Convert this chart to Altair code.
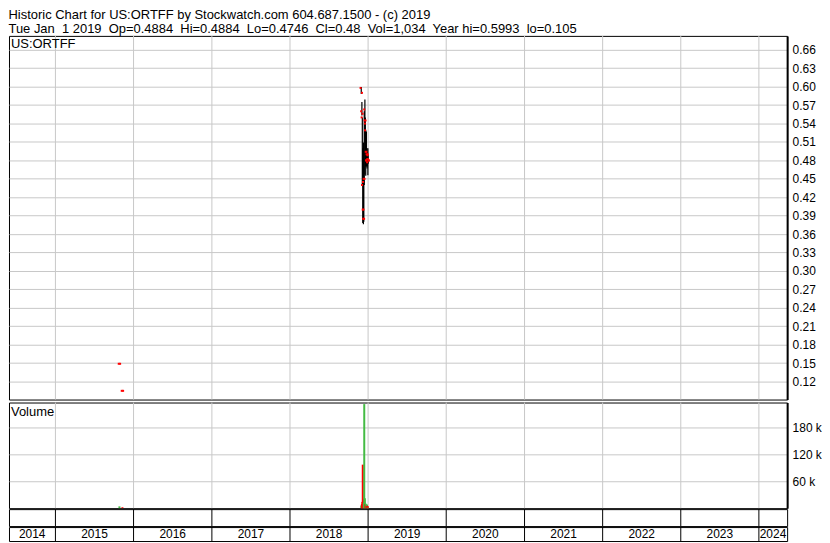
import altair as alt
import numpy as np
import pandas as pd

FONT = "Liberation Sans"
GRID = "#c8c8c8"
W = 781

title_lines = [
    "Historic Chart for US:ORTFF by Stockwatch.com 604.687.1500 - (c) 2019",
    "Tue Jan\u00a0 1 2019\u00a0 Op=0.4884\u00a0 Hi=0.4884\u00a0 Lo=0.4746\u00a0 Cl=0.48\u00a0 Vol=1,034\u00a0 Year hi=0.5993\u00a0 lo=0.105",
]
symbol = "US:ORTFF"

bar_dates = ["2015-10-27", "2015-11-10", "2018-11-30", "2018-12-03", "2018-12-05",
             "2018-12-07", "2018-12-10", "2018-12-12", "2018-12-14", "2018-12-17",
             "2018-12-19", "2018-12-21", "2018-12-24", "2018-12-27", "2018-12-28",
             "2018-12-31", "2019-01-01"]
opens = [0.149, 0.105, 0.598, 0.560, 0.550, 0.440, 0.400, 0.385, 0.450, 0.563,
         0.545, 0.529, 0.494, 0.480, 0.490, 0.482, 0.4884]
highs = [0.149, 0.105, 0.5993, 0.575, 0.550, 0.500, 0.509, 0.470, 0.560, 0.579,
         0.550, 0.530, 0.527, 0.500, 0.495, 0.500, 0.4884]
lows = [0.149, 0.105, 0.588, 0.553, 0.440, 0.378, 0.376, 0.380, 0.440, 0.457,
        0.470, 0.455, 0.470, 0.467, 0.470, 0.456, 0.4746]
closes = [0.149, 0.105, 0.590, 0.556, 0.445, 0.400, 0.385, 0.450, 0.540, 0.545,
          0.480, 0.494, 0.477, 0.490, 0.482, 0.480, 0.480]
volumes = [4000, 2000, 6000, 9000, 14000, 97000, 20000, 12000, 232000, 22000,
           9000, 10000, 6000, 8000, 5000, 4000, 1034]

price_ticks = [0.12, 0.15, 0.18, 0.21, 0.24, 0.27, 0.30, 0.33, 0.36, 0.39, 0.42,
               0.45, 0.48, 0.51, 0.54, 0.57, 0.60, 0.63, 0.66]
vol_ticks = [60000, 120000, 180000]
years = list(range(2014, 2025))

dom_start = pd.Timestamp("2014-05-29")
dom_end = pd.Timestamp("2024-05-12")

df = pd.DataFrame({"date": [d + "T00:00:00Z" for d in bar_dates], "open": opens,
                   "high": highs, "low": lows, "close": closes, "volume": volumes})
prev = pd.Series(closes).shift(1).fillna(0)
df["dir"] = np.where(pd.Series(closes) >= prev, "up", "down")

bounds = pd.DataFrame({"date": [f"{y}-01-01T00:00:00Z" for y in years[1:]]})
mids = []
for y in years:
    s = max(pd.Timestamp(f"{y}-01-01"), dom_start)
    e = min(pd.Timestamp(f"{y + 1}-01-01"), dom_end)
    mids.append((s + (e - s) / 2).strftime("%Y-%m-%dT%H:%M:%SZ"))
labels = pd.DataFrame({"date": mids, "year": [str(y) for y in years]})

x_scale = alt.Scale(type="utc", domain=[
    alt.DateTime(year=2014, month=5, date=29, utc=True),
    alt.DateTime(year=2024, month=5, date=12, utc=True)])
x_enc = alt.X("date:T", scale=x_scale, axis=None)

price_scale = alt.Scale(domain=[0.0908, 0.6827], nice=False, zero=False)
price_axis = alt.Axis(orient="right", values=price_ticks, format=".2f", title=None,
                      ticks=False, labelPadding=5, labelOverlap=False,
                      domainColor="black", domainWidth=2, gridColor=GRID)


def py(field):
    return alt.Y(field, type="quantitative", scale=price_scale, axis=price_axis)


base = alt.Chart(df)
year_grid_p = alt.Chart(bounds).mark_rule(color=GRID).encode(x=x_enc)
hl = base.mark_rule(color="black", strokeWidth=1.2).encode(x=x_enc, y=py("low"), y2="high:Q")
op = base.mark_square(size=4, color="red", opacity=1, xOffset=-0.7).encode(x=x_enc, y=py("open"))
cl = base.mark_square(size=4, color="red", opacity=1, xOffset=0.7).encode(x=x_enc, y=py("close"))
sym = alt.Chart(pd.DataFrame({"t": [symbol]})).mark_text(
    align="left", baseline="middle", font=FONT, fontSize=13, color="black"
).encode(x=alt.value(2), y=alt.value(8), text="t:N")
price = alt.layer(year_grid_p, hl, op, cl, sym).properties(width=W, height=365)

year_grid_v = alt.Chart(bounds).mark_rule(color=GRID).encode(x=x_enc)
vol_bars = base.mark_rule(strokeWidth=2).encode(
    x=x_enc,
    y=alt.Y("volume:Q", scale=alt.Scale(domain=[0, 235500], nice=False),
            axis=alt.Axis(orient="right", values=vol_ticks, title=None, ticks=False,
                          labelPadding=5, labelOverlap=False,
                          labelExpr="datum.value / 1000 + ' k'",
                          domainColor="black", domainWidth=2, gridColor=GRID)),
    y2=alt.datum(0),
    color=alt.Color("dir:N", scale=alt.Scale(domain=["up", "down"], range=["#44bb44", "#ff0000"]),
                    legend=None),
)
vol_lbl = alt.Chart(pd.DataFrame({"t": ["Volume"]})).mark_text(
    align="left", baseline="middle", font=FONT, fontSize=13, color="black"
).encode(x=alt.value(2), y=alt.value(10), text="t:N")
volume = alt.layer(year_grid_v, vol_bars, vol_lbl).properties(width=W, height=106)

tick_row = alt.Chart(bounds).mark_rule(color="black").encode(
    x=x_enc).properties(width=W, height=17)

lab_rules = alt.Chart(bounds).mark_rule(color="black").encode(x=x_enc)
lab_text = alt.Chart(labels).mark_text(
    font=FONT, fontSize=12, color="black", baseline="middle", align="center"
).encode(x=x_enc, y=alt.value(7), text="year:N")
label_row = alt.layer(lab_rules, lab_text).properties(width=W, height=14)

lower = alt.vconcat(volume, tick_row, label_row, spacing=1, bounds="flush")

chart = alt.vconcat(price, lower, spacing=3, bounds="flush").properties(
    title=alt.TitleParams(text=title_lines, anchor="start", fontSize=13, font=FONT,
                          fontWeight="normal", color="black", lineHeight=14, offset=-1),
    padding=0,
    background="white",
).configure_view(stroke="black", strokeWidth=1).configure_axis(
    labelFont=FONT, labelFontSize=12, labelColor="black"
)

chart.save("out.html", embed_options={"renderer": "svg", "actions": False})
